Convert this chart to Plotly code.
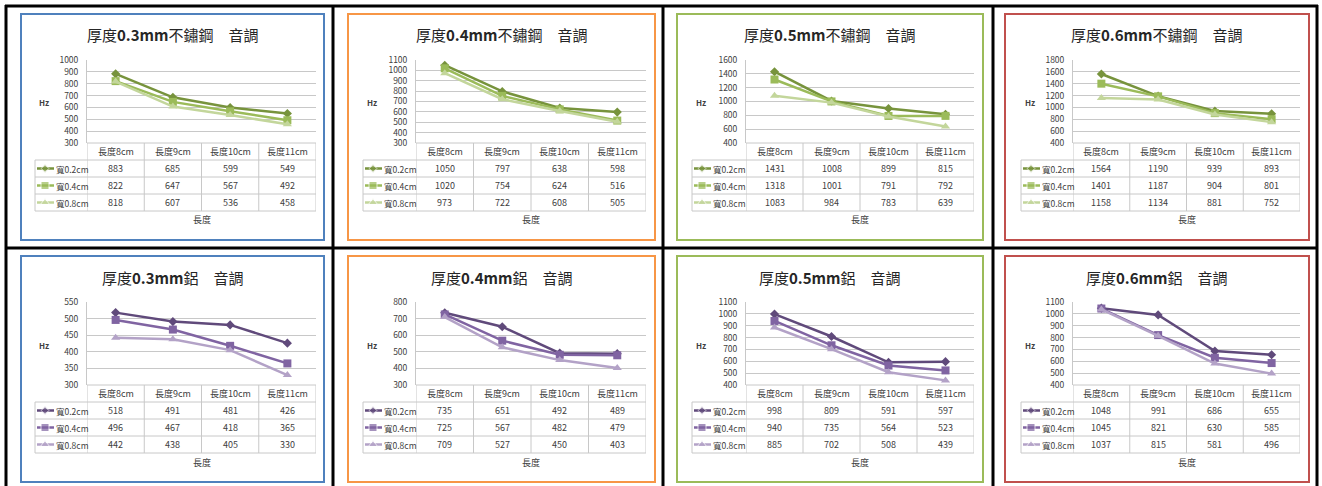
import plotly.graph_objects as go

W, H = 1322, 486

# ---------------- data ----------------
categories = ["長度8cm", "長度9cm", "長度10cm", "長度11cm"]
series_names = ["寬0.2cm", "寬0.4cm", "寬0.8cm"]

steel_03 = [[883, 685, 599, 549], [822, 647, 567, 492], [818, 607, 536, 458]]
steel_04 = [[1050, 797, 638, 598], [1020, 754, 624, 516], [973, 722, 608, 505]]
steel_05 = [[1431, 1008, 899, 815], [1318, 1001, 791, 792], [1083, 984, 783, 639]]
steel_06 = [[1564, 1190, 939, 893], [1401, 1187, 904, 801], [1158, 1134, 881, 752]]

alu_03 = [[518, 491, 481, 426], [496, 467, 418, 365], [442, 438, 405, 330]]
alu_04 = [[735, 651, 492, 489], [725, 567, 482, 479], [709, 527, 450, 403]]
alu_05 = [[998, 809, 591, 597], [940, 735, 564, 523], [885, 702, 508, 439]]
alu_06 = [[1048, 991, 686, 655], [1045, 821, 630, 585], [1037, 815, 581, 496]]

steel_titles = ["厚度<b>0.3mm</b>不鏽鋼　音調", "厚度<b>0.4mm</b>不鏽鋼　音調",
                "厚度<b>0.5mm</b>不鏽鋼　音調", "厚度<b>0.6mm</b>不鏽鋼　音調"]
alu_titles = ["厚度<b>0.3mm</b>鋁　音調", "厚度<b>0.4mm</b>鋁　音調",
              "厚度<b>0.5mm</b>鋁　音調", "厚度<b>0.6mm</b>鋁　音調"]

steel_ticks = [[300, 400, 500, 600, 700, 800, 900, 1000],
               [300, 400, 500, 600, 700, 800, 900, 1000, 1100],
               [400, 600, 800, 1000, 1200, 1400, 1600],
               [400, 600, 800, 1000, 1200, 1400, 1600, 1800]]
alu_ticks = [[300, 350, 400, 450, 500, 550],
             [300, 400, 500, 600, 700, 800],
             [400, 500, 600, 700, 800, 900, 1000, 1100],
             [400, 500, 600, 700, 800, 900, 1000, 1100]]

y_title = "Hz"
x_title = "長度"

# ---------------- styles ----------------
green = ["#77933C", "#9BBB59", "#C3D69B"]
purple = ["#604A7B", "#8064A2", "#B3A2C7"]
symbols = ["diamond", "square", "triangle-up"]
msizes = [7, 8, 8]
key_sizes = [6, 8, 8]
frame_colors = ["#4F81BD", "#F79646", "#9BBB59", "#C0504D"]

FONT = "Liberation Sans Narrow, Noto Sans CJK TC, sans-serif"
TXT = "#404040"
GRID = "#C8C8C8"
FS = 9
TICK_FS = 8.5

# per column pixel layout
COLS = [
    dict(frame=(21, 324), plot=(87, 316), leg=35),
    dict(frame=(348, 655), plot=(416, 646), leg=363),
    dict(frame=(677, 983), plot=(746, 974), leg=692),
    dict(frame=(1005, 1309), plot=(1073, 1300), leg=1021),
]
ROW_OFF = [0, 242]
R = dict(frame_top=14, frame_bot=240, title=35, plot_top=60, plot_bot=143,
         head_bot=160, row_h=17, xlabel=220, hz=103)


def px(x):
    return x / W


def py(y):
    return 1 - y / H


def xn(n):
    return "x" if n == 1 else f"x{n}"


def yn(n):
    return "y" if n == 1 else f"y{n}"


fig = go.Figure()
shapes = []
annotations = []
layout = {}

panels = []
for c in range(4):
    panels.append((0, c, steel_titles[c], [steel_03, steel_04, steel_05, steel_06][c], steel_ticks[c], green))
for c in range(4):
    panels.append((1, c, alu_titles[c], [alu_03, alu_04, alu_05, alu_06][c], alu_ticks[c], purple))

for k, (r, c, title, data, ticks, pal) in enumerate(panels):
    n = k + 1
    m = k + 9
    col = COLS[c]
    o = ROW_OFF[r]
    pl, pr = col["plot"]
    leg = col["leg"]
    ptop, pbot = R["plot_top"] + o, R["plot_bot"] + o
    hbot = R["head_bot"] + o
    rh = R["row_h"]
    tbot = hbot + 3 * rh

    # frame
    fl, fr = col["frame"]
    shapes.append(dict(type="rect", xref="paper", yref="paper",
                       x0=px(fl), x1=px(fr), y0=py(R["frame_bot"] + o), y1=py(R["frame_top"] + o),
                       line=dict(color=frame_colors[c], width=2), layer="below"))

    # main axes
    layout[f"xaxis{n}"] = dict(domain=[px(pl), px(pr)], anchor=yn(n), type="category",
                               categoryarray=categories, categoryorder="array",
                               range=[-0.5, 3.5], showticklabels=False, showgrid=False,
                               zeroline=False, showline=False, fixedrange=True)
    layout[f"yaxis{n}"] = dict(domain=[py(pbot), py(ptop)], anchor=xn(n),
                               range=[ticks[0], ticks[-1]], tickvals=ticks,
                               ticktext=[str(t) for t in ticks],
                               showgrid=True, gridcolor=GRID, gridwidth=1,
                               zeroline=False, showline=True, linecolor=GRID, linewidth=1,
                               ticks="", ticklabelstandoff=6, automargin=False,
                               tickfont=dict(family=FONT, size=TICK_FS, color=TXT), fixedrange=True)
    # legend-key axes
    layout[f"xaxis{m}"] = dict(domain=[px(leg), px(pl)], anchor=yn(m), range=[0, pl - leg],
                               visible=False, fixedrange=True)
    layout[f"yaxis{m}"] = dict(domain=[py(tbot), py(hbot)], anchor=xn(m), range=[2.5, -0.5],
                               visible=False, fixedrange=True)

    for s in range(3):
        fig.add_trace(go.Scatter(
            x=categories, y=data[s], xaxis=xn(n), yaxis=yn(n), mode="lines+markers",
            line=dict(color=pal[s], width=2.5),
            marker=dict(symbol=symbols[s], size=msizes[s], color=pal[s]),
            showlegend=False, cliponaxis=False, name=series_names[s]))
        # legend key in table
        fig.add_trace(go.Scatter(
            x=[2, 10, 19], y=[s, s, s], xaxis=xn(m), yaxis=yn(m), mode="lines+markers",
            line=dict(color=pal[s], width=2.5),
            marker=dict(symbol=symbols[s], size=[0, key_sizes[s], 0], color=pal[s]),
            showlegend=False, cliponaxis=False, hoverinfo="skip"))
        annotations.append(dict(xref=xn(m), yref=yn(m), x=19, y=s, text=series_names[s],
                                showarrow=False, xanchor="left", yanchor="middle",
                                font=dict(family=FONT, size=8.5, color=TXT)))
        for j, cat in enumerate(categories):
            annotations.append(dict(xref=xn(n), yref="paper", x=cat,
                                    y=py(hbot + rh * s + rh / 2), text=str(data[s][j]),
                                    showarrow=False, xanchor="center", yanchor="middle",
                                    font=dict(family=FONT, size=FS, color=TXT)))

    # header labels
    for j, cat in enumerate(categories):
        annotations.append(dict(xref=xn(n), yref="paper", x=cat, y=py((pbot + hbot) / 2),
                                text=cat, showarrow=False, xanchor="center", yanchor="middle",
                                font=dict(family=FONT, size=FS, color=TXT)))

    # table lines
    shapes.append(dict(type="line", xref=f"{xn(n)} domain", yref="paper", x0=0, x1=1,
                       y0=py(pbot), y1=py(pbot), line=dict(color=GRID, width=1)))
    for i in range(4):
        yy = py(hbot + rh * i)
        shapes.append(dict(type="line", xref="paper", yref="paper", x0=px(leg), x1=px(pr),
                           y0=yy, y1=yy, line=dict(color=GRID, width=1)))
    for i in range(5):
        shapes.append(dict(type="line", xref=xn(n), yref="paper", x0=i - 0.5, x1=i - 0.5,
                           y0=py(pbot), y1=py(tbot), line=dict(color=GRID, width=1)))
    shapes.append(dict(type="line", xref="paper", yref="paper", x0=px(leg), x1=px(leg),
                       y0=py(hbot), y1=py(tbot), line=dict(color=GRID, width=1)))

    # titles
    annotations.append(dict(xref="paper", yref="paper", x=px((fl + fr) / 2), y=py(R["title"] + o),
                            text=title, showarrow=False, xanchor="center", yanchor="middle",
                            font=dict(family=FONT, size=15, color="#262626")))
    annotations.append(dict(xref="paper", yref="paper", x=px(leg + 2), y=py(R["hz"] + o),
                            text=f"<b>{y_title}</b>", showarrow=False, xanchor="left",
                            yanchor="middle", font=dict(family=FONT, size=8, color=TXT)))
    annotations.append(dict(xref=f"{xn(n)} domain", yref="paper", x=0.5, y=py(R["xlabel"] + o),
                            text=x_title, showarrow=False, xanchor="center", yanchor="middle",
                            font=dict(family=FONT, size=FS, color=TXT)))

# outer black grid
for xv in [6, 333, 663, 993, 1317]:
    shapes.append(dict(type="line", xref="paper", yref="paper", x0=px(xv), x1=px(xv),
                       y0=0, y1=py(5), line=dict(color="black", width=3)))
for yv in [6, 248]:
    shapes.append(dict(type="line", xref="paper", yref="paper", x0=px(5), x1=px(1318),
                       y0=py(yv), y1=py(yv), line=dict(color="black", width=3)))

fig.update_layout(width=W, height=H, autosize=False,
                  margin=dict(l=0, r=0, t=0, b=0, pad=0, autoexpand=False),
                  paper_bgcolor="white", plot_bgcolor="white", showlegend=False,
                  shapes=shapes, annotations=annotations, **layout)
fig.write_html("out.html", config={"displayModeBar": False, "responsive": False},
               post_script="document.body.style.margin='0';document.body.style.overflow='hidden';")
